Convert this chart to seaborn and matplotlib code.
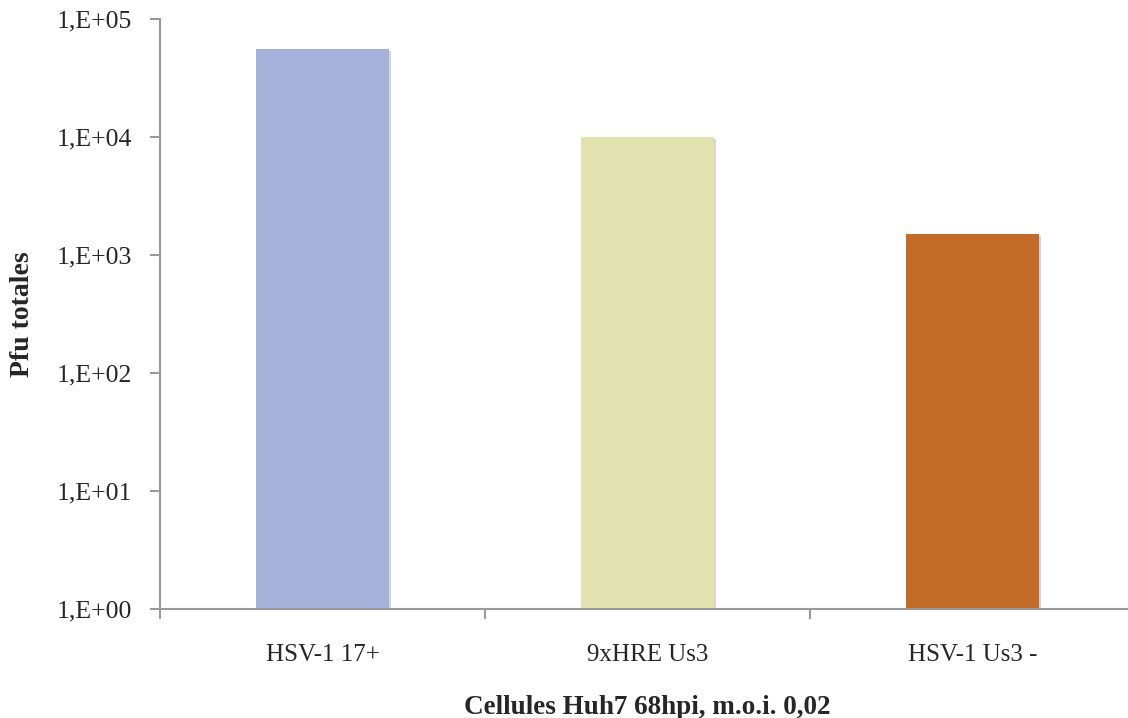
import matplotlib
matplotlib.use("Agg")
import matplotlib.pyplot as plt
import matplotlib.patheffects as pe
from matplotlib.ticker import FixedLocator, FixedFormatter, NullLocator
import pandas as pd
import seaborn as sns


# Data
souches = ["HSV-1 17+", "9xHRE Us3", "HSV-1 Us3 -"]
pfu = [56000, 10100, 1500]
couleurs = ["#A6B2DA", "#E2E2B0", "#C36B28"]
y_ticks = [1, 10, 100, 1000, 10000, 100000]
y_labels = ["1,E+00", "1,E+01", "1,E+02", "1,E+03", "1,E+04", "1,E+05"]

df = pd.DataFrame({"souche": souches, "pfu": pfu})

sns.set_style("white")
plt.rcParams['font.family'] = ['Liberation Serif', 'DejaVu Serif']

fig = plt.figure(figsize=(11.28, 7.18), dpi=100)
ax = fig.add_axes([0.1418, 0.1518, 0.8644, 0.8217])

sns.barplot(x="souche", y="pfu", hue="souche", data=df, palette=couleurs,
	width=0.41, legend=False, ax=ax, saturation=1)

for p in ax.patches:
	p.set_linewidth(0)
	p.set_path_effects([pe.SimplePatchShadow(offset=(1.5, -1.5), shadow_rgbFace="#888888", alpha=0.35),
		pe.Normal()])

ax.set_yscale("log")
ax.set_ylim(1, 100000)
ax.set_xlim(-0.5, 2.5)
ax.yaxis.set_major_locator(FixedLocator(y_ticks))
ax.yaxis.set_major_formatter(FixedFormatter(y_labels))
ax.yaxis.set_minor_locator(NullLocator())

ax.xaxis.set_minor_locator(FixedLocator([-0.5, 0.5, 1.5, 2.5]))
ax.tick_params(axis="x", which="major", length=0, pad=25, labelsize=18)
ax.tick_params(axis="x", which="minor", length=7, width=1.5, color="#999999", direction="out", bottom=True)
ax.tick_params(axis="y", which="major", length=7, width=1.5, color="#999999", direction="out", left=True,
	pad=13, labelsize=18.5)

ax.spines['right'].set_visible(False)
ax.spines['top'].set_visible(False)
for s in ["left", "bottom"]:
	ax.spines[s].set_color("#999999")
	ax.spines[s].set_linewidth(1.5)

ax.set_xlabel("Cellules Huh7 68hpi, m.o.i. 0,02", fontsize=19.5, fontweight="bold", labelpad=21)
ax.set_ylabel("Pfu totales", fontsize=20, fontweight="bold", labelpad=16)

fig.savefig("out.png", dpi=100)
